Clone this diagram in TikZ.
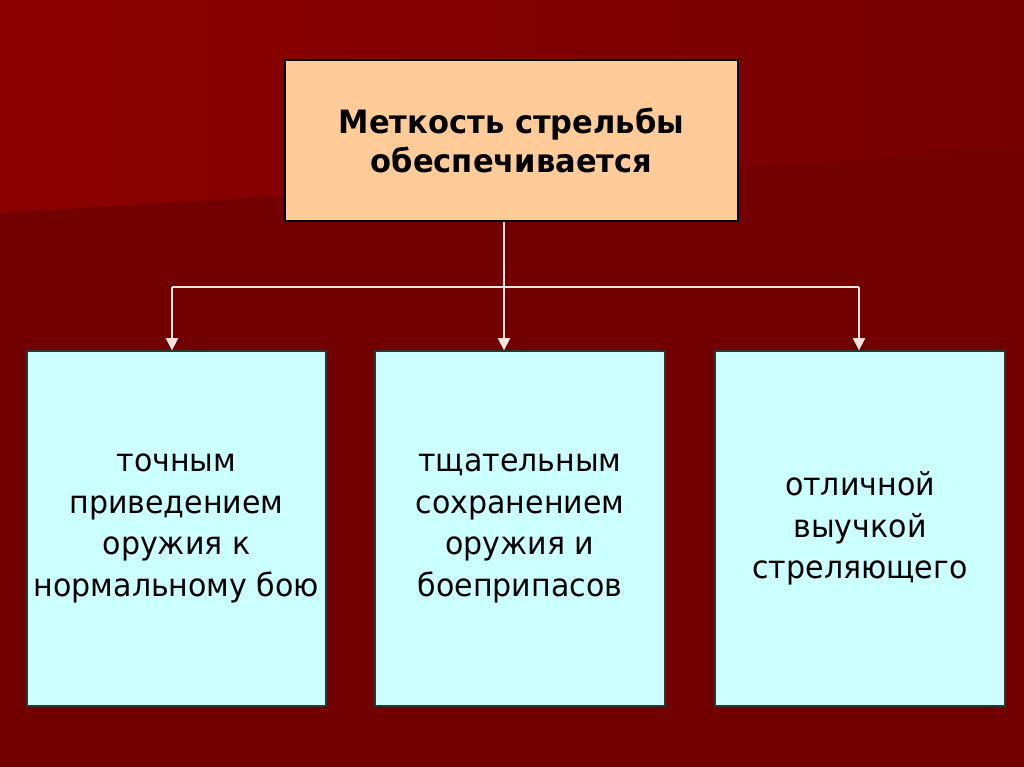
\documentclass[tikz,border=0pt]{standalone}
\usepackage{fontspec}
\setmainfont{DejaVu Sans}[FakeStretch=0.95]
\usepackage{tikz}
\usetikzlibrary{arrows.meta, positioning, calc}
\definecolor{bgdark}{RGB}{115,0,0}
\definecolor{bgband}{RGB}{140,0,0}
\definecolor{bgbandr}{RGB}{118,0,0}
\definecolor{peach}{RGB}{255,204,153}
\definecolor{paleblue}{RGB}{204,255,255}
\definecolor{wirecol}{RGB}{255,228,228}
\tikzset{
	topbox/.style={
		draw=black,
		line width=1pt,
		fill=peach,
		minimum width=9.06cm,
		minimum height=3.22cm,
		align=center,
		font=\fontsize{18.3}{22}\selectfont\bfseries
	},
	leafbox/.style={
		draw=black!80,
		line width=0.8pt,
		fill=paleblue,
		minimum height=7.1cm,
		align=center,
		font=\fontsize{18}{23.6}\selectfont
	},
	wire/.style={
		draw=wirecol,
		line width=0.85pt
	},
	arrow/.style={
		wire,
		-{Triangle[length=7pt,width=7pt]}
	}
}

\begin{document}
\begin{tikzpicture}[x=0.02cm, y=-0.02cm]
		
		% Background
		\useasboundingbox (0,0) rectangle (1024,767);
		\fill[bgdark] (0,0) rectangle (1024,767);
		\shade[left color=bgband, right color=bgbandr] (0,0) -- (1024,0) -- (1024,150) -- (0,213) -- cycle;
		
		% Top
		\node[topbox] (goal) at (511.5,140.5) {Меткость стрельбы\\обеспечивается};
		
		% Factors
		\node[leafbox, minimum width=5.98cm] (aim) at (176.5,528.5) {точным\\приведением\\оружия к\\нормальному бою};
		\node[leafbox, minimum width=5.8cm] (care) at (520,528.5) {тщательным\\сохранением\\оружия и\\боеприпасов};
		\node[leafbox, minimum width=5.8cm] (skill) at (860,528.5) {отличной\\выучкой\\стреляющего};
		
		% Branching
		\coordinate (split) at (504,287);
		\coordinate (leftend) at (172,287);
		\coordinate (rightend) at (859,287);
		
		\draw[wire] (goal.south -| split) -- (split);
		\draw[wire] (leftend) -- (rightend);
		\draw[arrow] (leftend) -- (aim.north -| leftend);
		\draw[arrow] (split) -- (care.north -| split);
		\draw[arrow] (rightend) -- (skill.north -| rightend);
		
	\end{tikzpicture}
\end{document}
